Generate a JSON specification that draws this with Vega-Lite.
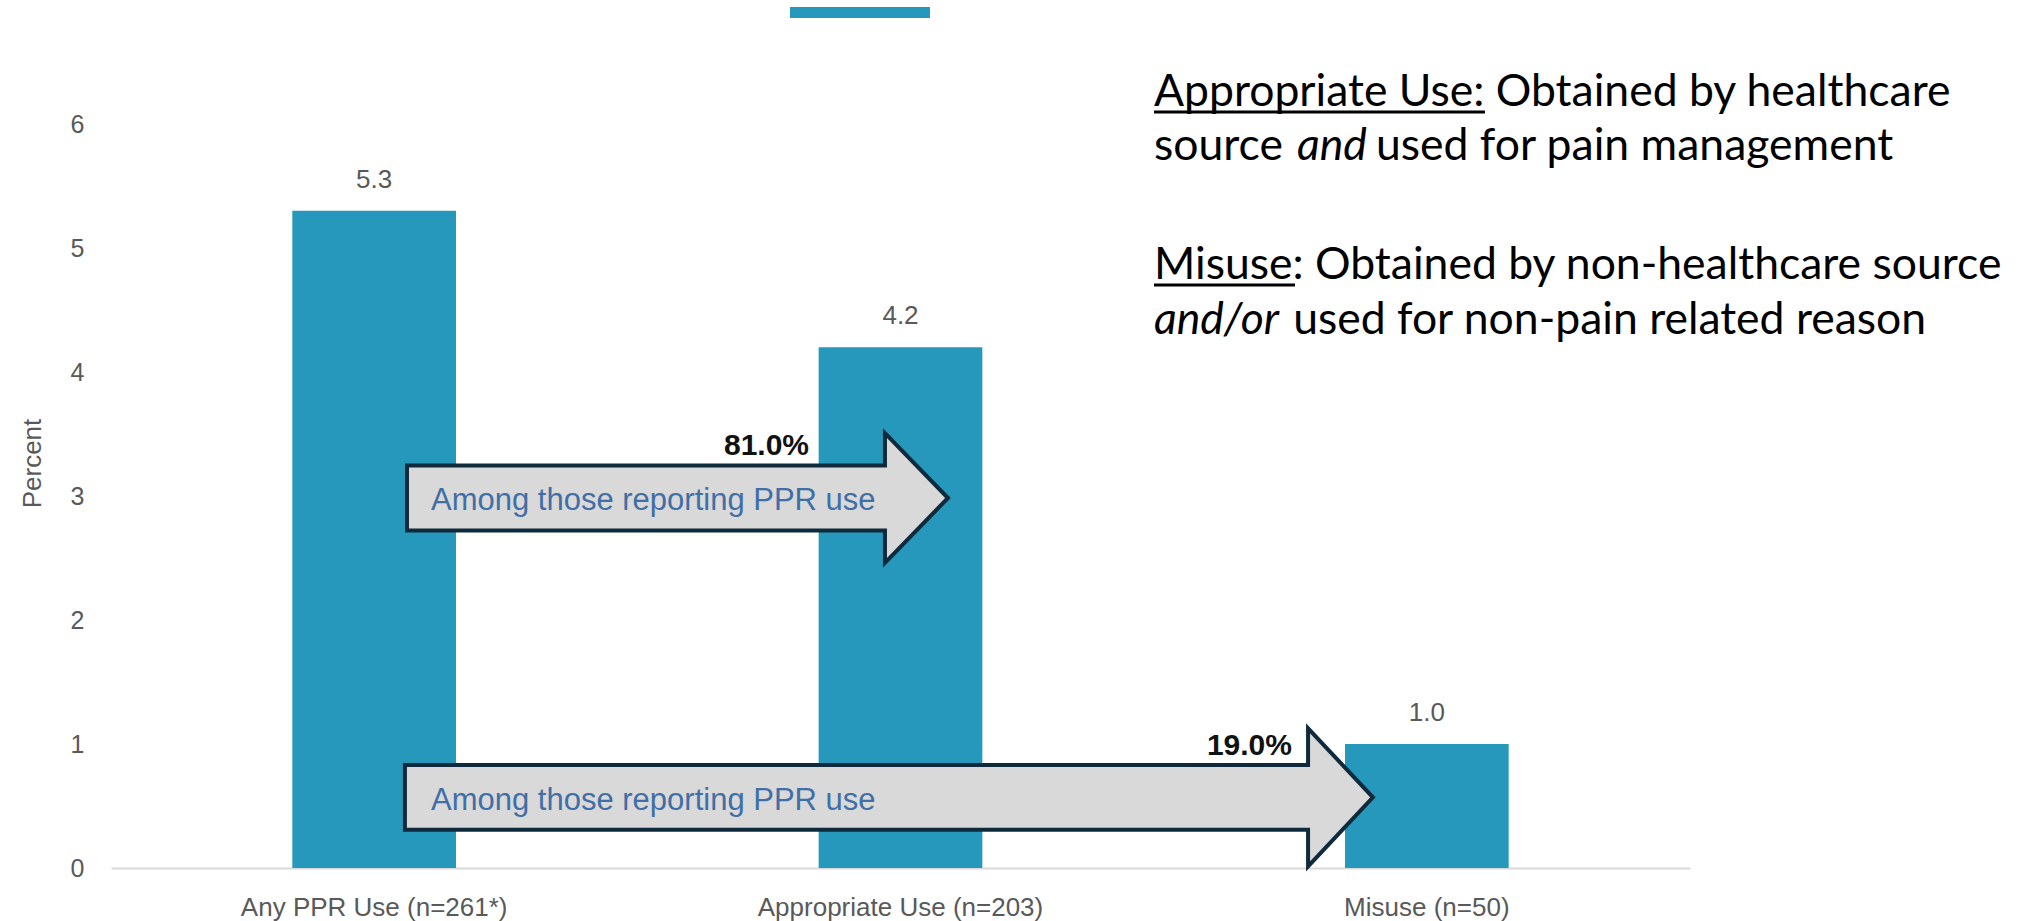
{
  "$schema": "https://vega.github.io/schema/vega-lite/v6.json",
  "width": 1579,
  "height": 744,
  "autosize": {"type": "none"},
  "padding": {"left": 111, "top": 124, "right": 345, "bottom": 53},
  "background": "white",
  "config": {"view": {"stroke": null}},
  "datasets": {
    "bars": [
      {"category": "Any PPR Use (n=261*)", "percent": 5.3},
      {"category": "Appropriate Use (n=203)", "percent": 4.2},
      {"category": "Misuse (n=50)", "percent": 1.0}
    ],
    "arrows": [
      {"to": "Appropriate Use", "x": 1.0763, "y": 2.984},
      {"to": "Misuse", "x": 1.478, "y": 0.57}
    ],
    "arrowText": [
      {"x": 0.608, "y": 2.887, "text": "Among those reporting PPR use"},
      {"x": 0.608, "y": 0.468, "text": "Among those reporting PPR use"}
    ],
    "shares": [
      {"x": 1.3262, "y": 3.3306, "text": "81.0%"},
      {"x": 2.2438, "y": 0.9113, "text": "19.0%"}
    ],
    "notes": [
      {"x": 1.9816, "y": 6.1452, "text": "Appropriate Use: Obtained by healthcare", "emphasis": false},
      {"x": 1.9816, "y": 5.7097, "text": "source", "emphasis": false},
      {"x": 2.2533, "y": 5.7097, "text": "and", "emphasis": true},
      {"x": 2.4034, "y": 5.7097, "text": "used for pain management", "emphasis": false},
      {"x": 1.9816, "y": 4.75, "text": "Misuse: Obtained by non-healthcare source", "emphasis": false},
      {"x": 1.9816, "y": 4.3065, "text": "and/or", "emphasis": true},
      {"x": 2.246, "y": 4.3065, "text": "used for non-pain related reason", "emphasis": false}
    ],
    "underlines": [
      {"x": 1.9816, "x2": 2.6105, "y": 6.0968},
      {"x": 1.9816, "x2": 2.2495, "y": 4.7016}
    ],
    "swatch": [
      {"x": 1.29, "x2": 1.556, "y": 6.944, "y2": 6.855}
    ]
  },
  "resolve": {"scale": {"x": "independent"}},
  "layer": [
    {
      "data": {"name": "bars"},
      "mark": {"type": "bar", "color": "#2698bb"},
      "encoding": {
        "x": {
          "field": "category", "type": "nominal", "sort": null,
          "scale": {"paddingInner": 0.689, "paddingOuter": 0.3445},
          "axis": {
            "title": null, "labelAngle": 0, "ticks": false, "labelLimit": 0,
            "labelFont": "Liberation Sans", "labelFontSize": 26, "labelColor": "#595959",
            "labelPadding": 26, "domainColor": "#d9d9d9", "domainWidth": 2
          }
        },
        "y": {
          "field": "percent", "type": "quantitative",
          "scale": {"domain": [0, 6], "nice": false},
          "axis": {
            "title": "Percent", "values": [0, 1, 2, 3, 4, 5, 6], "format": "d", "grid": false, "ticks": false, "domain": false,
            "labelFont": "Liberation Sans", "labelFontSize": 25, "labelColor": "#595959", "labelPadding": 27,
            "titleFont": "Liberation Sans", "titleFontSize": 26, "titleFontWeight": "normal", "titleColor": "#595959",
            "titlePadding": 25, "titleY": 339
          }
        }
      }
    },
    {
      "data": {"name": "bars"},
      "mark": {"type": "text", "baseline": "alphabetic", "dy": -23, "font": "Liberation Sans", "fontSize": 26, "color": "#595959"},
      "encoding": {
        "x": {"field": "category", "type": "nominal", "sort": null, "scale": {"paddingInner": 0.689, "paddingOuter": 0.3445}, "axis": null},
        "y": {"field": "percent", "type": "quantitative", "scale": {"domain": [0, 6], "nice": false}},
        "text": {"field": "percent", "type": "quantitative", "format": ".1f"}
      }
    },
    {
      "data": {"name": "arrows"},
      "transform": [{"filter": "datum.to === 'Appropriate Use'"}],
      "mark": {"type": "point", "shape": "M-1,-0.12L0.767,-0.12L0.767,-0.24L1,0L0.767,0.24L0.767,0.12L-1,0.12Z", "size": 292681, "filled": true, "fill": "#d9d9d9", "stroke": "#0f2a3c", "strokeWidth": 4, "opacity": 1},
      "encoding": {
        "x": {"field": "x", "type": "quantitative", "scale": {"domain": [0, 3], "nice": false, "zero": false}, "axis": null},
        "y": {"field": "y", "type": "quantitative", "scale": {"domain": [0, 6], "nice": false}}
      }
    },
    {
      "data": {"name": "arrows"},
      "transform": [{"filter": "datum.to === 'Misuse'"}],
      "mark": {"type": "point", "shape": "M-1,-0.067L0.866,-0.067L0.866,-0.1426L1,0L0.866,0.1426L0.866,0.067L-1,0.067Z", "size": 937024, "filled": true, "fill": "#d9d9d9", "stroke": "#0f2a3c", "strokeWidth": 4, "opacity": 1},
      "encoding": {
        "x": {"field": "x", "type": "quantitative", "scale": {"domain": [0, 3], "nice": false, "zero": false}, "axis": null},
        "y": {"field": "y", "type": "quantitative", "scale": {"domain": [0, 6], "nice": false}}
      }
    },
    {
      "data": {"name": "arrowText"},
      "mark": {"type": "text", "align": "left", "baseline": "alphabetic", "font": "Liberation Sans", "fontSize": 31, "color": "#3f6fa6"},
      "encoding": {
        "x": {"field": "x", "type": "quantitative", "scale": {"domain": [0, 3], "nice": false, "zero": false}, "axis": null},
        "y": {"field": "y", "type": "quantitative", "scale": {"domain": [0, 6], "nice": false}},
        "text": {"field": "text"}
      }
    },
    {
      "data": {"name": "shares"},
      "mark": {"type": "text", "align": "right", "baseline": "alphabetic", "font": "Liberation Sans", "fontSize": 30, "fontWeight": "bold", "color": "#111111"},
      "encoding": {
        "x": {"field": "x", "type": "quantitative", "scale": {"domain": [0, 3], "nice": false, "zero": false}, "axis": null},
        "y": {"field": "y", "type": "quantitative", "scale": {"domain": [0, 6], "nice": false}},
        "text": {"field": "text"}
      }
    },
    {
      "data": {"name": "notes"},
      "transform": [{"filter": "!datum.emphasis"}],
      "mark": {"type": "text", "align": "left", "baseline": "alphabetic", "font": "Lato", "fontSize": 44.5, "color": "#000000"},
      "encoding": {
        "x": {"field": "x", "type": "quantitative", "scale": {"domain": [0, 3], "nice": false, "zero": false}, "axis": null},
        "y": {"field": "y", "type": "quantitative", "scale": {"domain": [0, 6], "nice": false}},
        "text": {"field": "text"}
      }
    },
    {
      "data": {"name": "notes"},
      "transform": [{"filter": "datum.emphasis"}],
      "mark": {"type": "text", "align": "left", "baseline": "alphabetic", "font": "Lato", "fontSize": 44.5, "fontStyle": "italic", "color": "#000000"},
      "encoding": {
        "x": {"field": "x", "type": "quantitative", "scale": {"domain": [0, 3], "nice": false, "zero": false}, "axis": null},
        "y": {"field": "y", "type": "quantitative", "scale": {"domain": [0, 6], "nice": false}},
        "text": {"field": "text"}
      }
    },
    {
      "data": {"name": "underlines"},
      "mark": {"type": "rule", "strokeWidth": 3, "color": "#000000"},
      "encoding": {
        "x": {"field": "x", "type": "quantitative", "scale": {"domain": [0, 3], "nice": false, "zero": false}, "axis": null},
        "x2": {"field": "x2"},
        "y": {"field": "y", "type": "quantitative", "scale": {"domain": [0, 6], "nice": false}}
      }
    },
    {
      "data": {"name": "swatch"},
      "mark": {"type": "rect", "color": "#2698bb"},
      "encoding": {
        "x": {"field": "x", "type": "quantitative", "scale": {"domain": [0, 3], "nice": false, "zero": false}, "axis": null},
        "x2": {"field": "x2"},
        "y": {"field": "y", "type": "quantitative", "scale": {"domain": [0, 6], "nice": false}},
        "y2": {"field": "y2"}
      }
    }
  ]
}
